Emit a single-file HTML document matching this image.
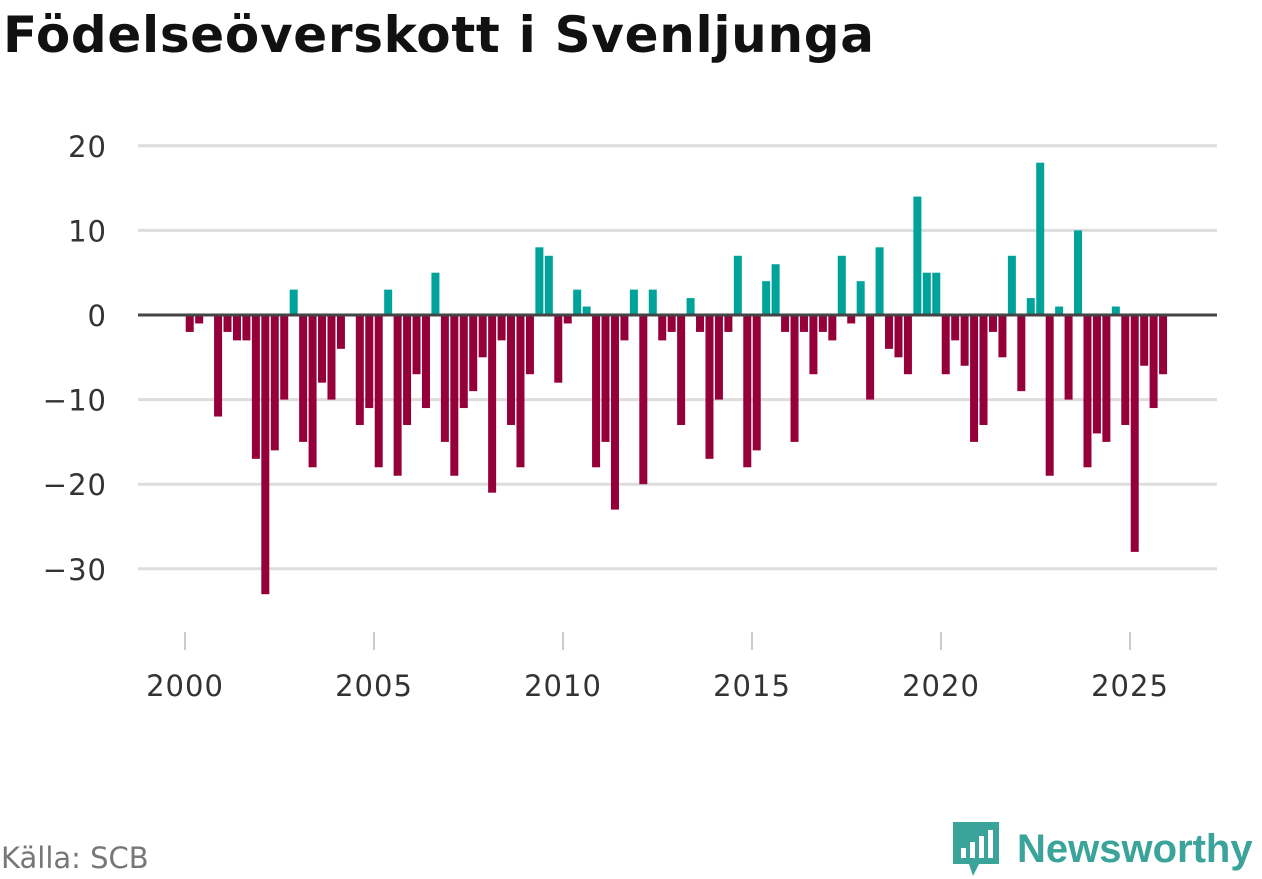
<!DOCTYPE html>
<html><head><meta charset="utf-8">
<style>
body{margin:0;width:1262px;height:879px;background:#fff;font-family:"Liberation Sans",sans-serif;overflow:hidden;position:relative}
#title{position:absolute;left:3px;top:6px;font-family:"DejaVu Sans",sans-serif;font-size:50px;font-weight:bold;color:#111;white-space:nowrap;letter-spacing:0.7px}
#src{position:absolute;left:1px;top:841px;font-family:"DejaVu Sans",sans-serif;font-size:29px;color:#777}
#logo{position:absolute;left:951px;top:820px;display:flex;align-items:center}
#logo span{font-size:40px;font-weight:bold;color:#3aa39a;margin-left:16px}
</style></head><body>
<div id="title">Födelseöverskott i Svenljunga</div>
<svg id="chart" width="1262" height="879" style="position:absolute;left:0;top:0"></svg>
<div id="src">Källa: SCB</div>
<div id="logo">
<svg width="50" height="58"><path d="M2 2h46v42H28l-6 12-4-12H2z" fill="#3aa39a"/><rect x="10" y="28" width="5" height="10" fill="#fff"/><rect x="19" y="22" width="5" height="16" fill="#fff"/><rect x="28" y="16" width="5" height="22" fill="#fff"/><rect x="37" y="10" width="5" height="28" fill="#fff"/></svg>
<span>Newsworthy</span></div>
<script>
const startYear = 2000;
const values = [-2,-1,0,-12,-2,-3,-3,-17,-33,-16,-10,3,-15,-18,-8,-10,-4,0,-13,-11,-18,3,-19,-13,-7,-11,5,-15,-19,-11,-9,-5,-21,-3,-13,-18,-7,8,7,-8,-1,3,1,-18,-15,-23,-3,3,-20,3,-3,-2,-13,2,-2,-17,-10,-2,7,-18,-16,4,6,-2,-15,-2,-7,-2,-3,7,-1,4,-10,8,-4,-5,-7,14,5,5,-7,-3,-6,-15,-13,-2,-5,7,-9,2,18,-19,1,-10,10,-18,-14,-15,1,-13,-28,-6,-11,-7];
const yTicks = [20,10,0,-10,-20,-30];
const xTicks = [2000,2005,2010,2015,2020,2025];
const NS="http://www.w3.org/2000/svg";
const svg=document.getElementById('chart');
const x=t=>185+(t-2000)*37.8;
const y=v=>315-v*8.46;
function el(tag,attrs){const e=document.createElementNS(NS,tag);for(const k in attrs)e.setAttribute(k,attrs[k]);svg.appendChild(e);return e;}
yTicks.forEach(v=>{
  const g=el('line',{x1:138,x2:1217,y1:y(v),y2:y(v),stroke:'#ddd','stroke-width':3});
  
  
  const t=el('text',{x:107,y:y(v)+11,'text-anchor':'end','font-size':29,fill:'#333','font-family':'DejaVu Sans, sans-serif','letter-spacing':1});
  t.textContent=v<0?'\u2212'+(-v):String(v);
  
  
});
values.forEach((v,i)=>{
  const cx=x(startYear+i/4+0.125);
  const r=el('rect',{x:cx-4,y:v>=0?y(v):y(0),width:8,height:Math.abs(y(v)-y(0)),fill:v>=0?'#00a39a':'#95003a'});
  
  
});
const z=el('line',{x1:138,x2:1217,y1:y(0),y2:y(0),stroke:'#444','stroke-width':3});


xTicks.forEach(t=>{
  const l=el('line',{x1:x(t),x2:x(t),y1:632,y2:650,stroke:'#ccc','stroke-width':2});
  
  
  const tx=el('text',{x:x(t),y:696,'text-anchor':'middle','font-size':29,fill:'#333','font-family':'DejaVu Sans, sans-serif','letter-spacing':1});
  tx.textContent=String(t);
  
  
});
</script>
</body></html>
